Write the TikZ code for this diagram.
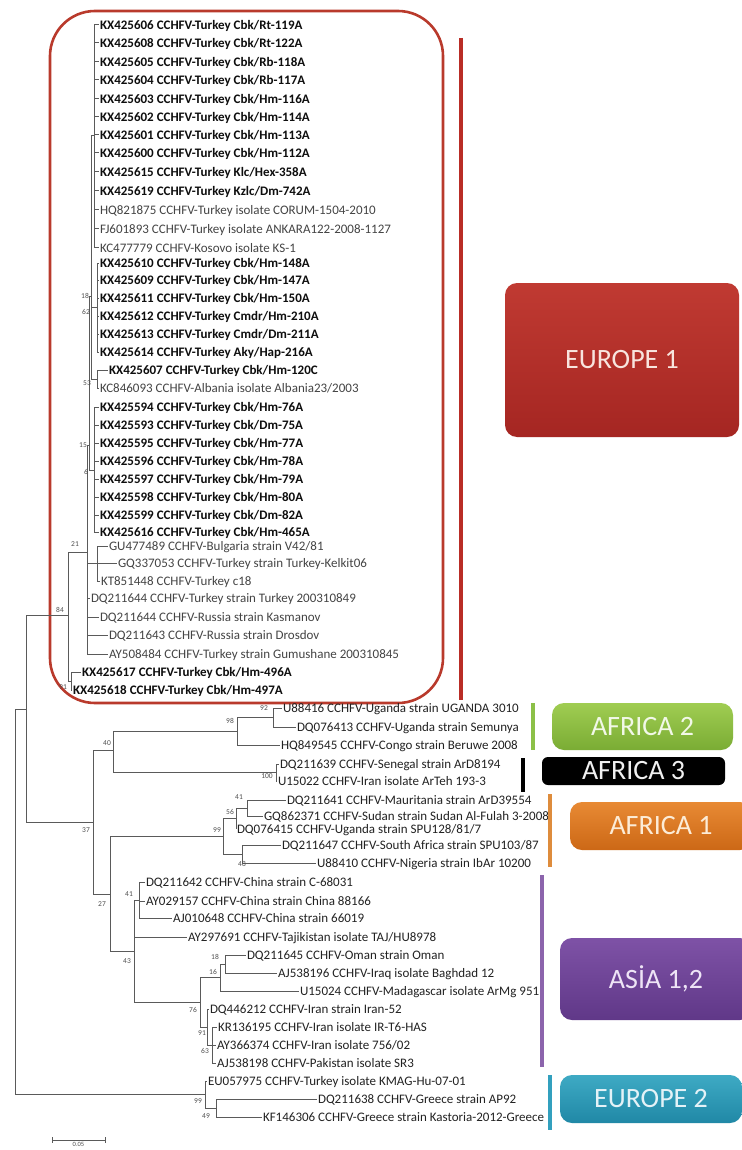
\documentclass[tikz,border=0pt]{standalone}
\usepackage{fontspec}
\setmainfont{Carlito}
\definecolor{txtb}{HTML}{0E0E0E}
\definecolor{txtg}{HTML}{444444}
\definecolor{txtd}{HTML}{222222}
\definecolor{brc}{HTML}{5A5A5A}
\definecolor{bsc}{HTML}{505050}
\definecolor{cladered}{RGB}{185,58,44}
\definecolor{barred}{RGB}{185,45,38}
\definecolor{bargreen}{RGB}{140,192,72}
\definecolor{barorange}{RGB}{222,140,60}
\definecolor{barpurple}{RGB}{140,100,172}
\definecolor{barteal}{RGB}{50,160,190}
\begin{document}
\begin{tikzpicture}[x=1pt,y=-1pt,
  leaf/.style={anchor=west,inner xsep=0.8pt,inner ysep=0pt,font=\fontsize{13}{13}\selectfont,text height=8.4pt,text depth=0pt,text=txtg},
  leafb/.style={leaf,font=\fontsize{13}{13}\selectfont\bfseries,text=txtb},
  leafd/.style={leaf,text=txtd},
  br/.style={draw=brc,line width=1pt},
  bs/.style={font=\fontsize{7.5}{7.5}\selectfont,text=bsc,inner sep=0pt},
  regbox/.style={rounded corners=12pt,inner sep=0pt,font=\fontsize{28}{28}\selectfont},
  bar/.style={line width=4pt}]
\useasboundingbox (0,0) rectangle (741,1150);
\fill[white] (0,0) rectangle (741,1150);

% ---------- clade frame ----------
\draw[cladered,line width=2.6pt,rounded corners=45pt] (50,11) rectangle (443,703);
\draw[bar,barred] (461,38) -- (461,700);

% ---------- Europe 1 leaves ----------
\node[leafb] (e1) at (99,25) {KX425606 CCHFV-Turkey Cbk/Rt-119A};
\node[leafb] (e2) at (99,43) {KX425608 CCHFV-Turkey Cbk/Rt-122A};
\node[leafb] (e3) at (99,62) {KX425605 CCHFV-Turkey Cbk/Rb-118A};
\node[leafb] (e4) at (99,80) {KX425604 CCHFV-Turkey Cbk/Rb-117A};
\node[leafb] (e5) at (99,99) {KX425603 CCHFV-Turkey Cbk/Hm-116A};
\node[leafb] (e6) at (99,117) {KX425602 CCHFV-Turkey Cbk/Hm-114A};
\node[leafb] (e7) at (99,135) {KX425601 CCHFV-Turkey Cbk/Hm-113A};
\node[leafb] (e8) at (99,153) {KX425600 CCHFV-Turkey Cbk/Hm-112A};
\node[leafb] (e9) at (99,172) {KX425615 CCHFV-Turkey Klc/Hex-358A};
\node[leafb] (e10) at (99,191) {KX425619 CCHFV-Turkey Kzlc/Dm-742A};
\node[leaf] (e11) at (99,210) {HQ821875 CCHFV-Turkey isolate CORUM-1504-2010};
\node[leaf] (e12) at (99,229) {FJ601893 CCHFV-Turkey isolate ANKARA122-2008-1127};
\node[leaf] (e13) at (99,248) {KC477779 CCHFV-Kosovo isolate KS-1};
\node[leafb] (e14) at (99,263) {KX425610 CCHFV-Turkey Cbk/Hm-148A};
\node[leafb] (e15) at (99,280) {KX425609 CCHFV-Turkey Cbk/Hm-147A};
\node[leafb] (e16) at (99,298) {KX425611 CCHFV-Turkey Cbk/Hm-150A};
\node[leafb] (e17) at (99,316) {KX425612 CCHFV-Turkey Cmdr/Hm-210A};
\node[leafb] (e18) at (99,334) {KX425613 CCHFV-Turkey Cmdr/Dm-211A};
\node[leafb] (e19) at (99,352) {KX425614 CCHFV-Turkey Aky/Hap-216A};
\node[leafb] (e20) at (108,370) {KX425607 CCHFV-Turkey Cbk/Hm-120C};
\node[leaf] (e21) at (99,388) {KC846093 CCHFV-Albania isolate Albania23/2003};
\node[leafb] (e22) at (99,407) {KX425594 CCHFV-Turkey Cbk/Hm-76A};
\node[leafb] (e23) at (99,425) {KX425593 CCHFV-Turkey Cbk/Dm-75A};
\node[leafb] (e24) at (99,443) {KX425595 CCHFV-Turkey Cbk/Hm-77A};
\node[leafb] (e25) at (99,461) {KX425596 CCHFV-Turkey Cbk/Hm-78A};
\node[leafb] (e26) at (99,479) {KX425597 CCHFV-Turkey Cbk/Hm-79A};
\node[leafb] (e27) at (99,497) {KX425598 CCHFV-Turkey Cbk/Hm-80A};
\node[leafb] (e28) at (99,515) {KX425599 CCHFV-Turkey Cbk/Dm-82A};
\node[leafb] (e29) at (99,532) {KX425616 CCHFV-Turkey Cbk/Hm-465A};
\node[leaf] (e30) at (108,546) {GU477489 CCHFV-Bulgaria strain V42/81};
\node[leaf] (e31) at (117,563) {GQ337053 CCHFV-Turkey strain Turkey-Kelkit06};
\node[leaf] (e32) at (100,581) {KT851448 CCHFV-Turkey c18};
\node[leaf] (e33) at (90,598) {DQ211644 CCHFV-Turkey strain Turkey 200310849};
\node[leaf] (e34) at (99,617) {DQ211644 CCHFV-Russia strain Kasmanov};
\node[leaf] (e35) at (108,635) {DQ211643 CCHFV-Russia strain Drosdov};
\node[leaf] (e36) at (108,654) {AY508484 CCHFV-Turkey strain Gumushane 200310845};
\node[leafb] (e37) at (81,672) {KX425617 CCHFV-Turkey Cbk/Hm-496A};
\node[leafb] (e38) at (72,690) {KX425618 CCHFV-Turkey Cbk/Hm-497A};

% ---------- lower leaves ----------
\node[leafd] (a1) at (282,708) {U88416 CCHFV-Uganda strain UGANDA 3010};
\node[leafd] (a2) at (296,727) {DQ076413 CCHFV-Uganda strain Semunya};
\node[leafd] (a3) at (280,745) {HQ849545 CCHFV-Congo strain Beruwe 2008};
\node[leafd] (a4) at (279,764) {DQ211639 CCHFV-Senegal strain ArD8194};
\node[leafd] (a5) at (277,781) {U15022 CCHFV-Iran isolate ArTeh 193-3};
\node[leafd] (a6) at (286,800) {DQ211641 CCHFV-Mauritania strain ArD39554};
\node[leafd] (a7) at (263,816) {GQ862371 CCHFV-Sudan strain Sudan Al-Fulah 3-2008};
\node[leafd] (a8) at (236,829) {DQ076415 CCHFV-Uganda strain SPU128/81/7};
\node[leafd] (a9) at (281,845) {DQ211647 CCHFV-South Africa strain SPU103/87};
\node[leafd] (a10) at (316,863) {U88410 CCHFV-Nigeria strain IbAr 10200};
\node[leafd] (a11) at (145,882) {DQ211642 CCHFV-China strain C-68031};
\node[leafd] (a12) at (145,901) {AY029157 CCHFV-China strain China 88166};
\node[leafd] (a13) at (172,918) {AJ010648 CCHFV-China strain 66019};
\node[leafd] (a14) at (187,937) {AY297691 CCHFV-Tajikistan isolate TAJ/HU8978};
\node[leafd] (a15) at (246,955) {DQ211645 CCHFV-Oman strain Oman};
\node[leafd] (a16) at (277,973) {AJ538196 CCHFV-Iraq isolate Baghdad 12};
\node[leafd] (a17) at (299,991) {U15024 CCHFV-Madagascar isolate ArMg 951};
\node[leafd] (a18) at (209,1009) {DQ446212 CCHFV-Iran strain Iran-52};
\node[leafd] (a19) at (217,1027) {KR136195 CCHFV-Iran isolate IR-T6-HAS};
\node[leafd] (a20) at (216,1045) {AY366374 CCHFV-Iran isolate 756/02};
\node[leafd] (a21) at (216,1063) {AJ538198 CCHFV-Pakistan isolate SR3};
\node[leafd] (a22) at (207,1081) {EU057975 CCHFV-Turkey isolate KMAG-Hu-07-01};
\node[leafd] (a23) at (317,1099) {DQ211638 CCHFV-Greece strain AP92};
\node[leafd] (a24) at (262,1117) {KF146306 CCHFV-Greece strain Kastoria-2012-Greece};

% ---------- internal nodes ----------
\coordinate (nTop) at (94,136);
\coordinate (n62) at (97,307);
\coordinate (n53) at (97,379);
\coordinate (n18) at (91,296);
\coordinate (n6) at (94,470);
\coordinate (n15) at (89,445);
\coordinate (nG) at (97,563);
\coordinate (n21) at (87,552);
\coordinate (n91) at (71,681);
\coordinate (n84) at (68,615);
\coordinate (nA) at (26,709);
\coordinate (root) at (15,900);
\coordinate (n92) at (273,717);
\coordinate (n98) at (237,731);
\coordinate (n100) at (276,772);
\coordinate (n40) at (113,750);
\coordinate (n41a) at (247,808);
\coordinate (n56) at (236,818);
\coordinate (n48) at (242,854);
\coordinate (n99a) at (223,836);
\coordinate (n41b) at (139,900);
\coordinate (n18b) at (225,964);
\coordinate (n16) at (220,977);
\coordinate (n63) at (212,1045);
\coordinate (n91b) at (207,1027);
\coordinate (n76) at (200,1002);
\coordinate (n43) at (134,951);
\coordinate (n27) at (110,894);
\coordinate (n37) at (93,822);
\coordinate (n49) at (216,1108);
\coordinate (n99e) at (205,1094);

% ---------- branches ----------
\foreach \l in {e1,e2,e3,e4,e5,e6,e7,e8,e9,e10,e11,e12,e13} \draw[br] (nTop) |- (\l.west);
\foreach \l in {e14,e15,e16,e17,e18,e19} \draw[br] (n62) |- (\l.west);
\foreach \l in {e20,e21} \draw[br] (n53) |- (\l.west);
\foreach \l in {nTop,n62,n53} \draw[br] (n18) |- (\l);
\foreach \l in {e22,e23,e24,e25,e26,e27,e28,e29} \draw[br] (n6) |- (\l.west);
\foreach \l in {n18,n6} \draw[br] (n15) |- (\l);
\foreach \l in {e30,e31,e32} \draw[br] (nG) |- (\l.west);
\foreach \l in {e33,e34,e35,e36} \draw[br] (n21) |- (\l.west);
\foreach \l in {n15,nG} \draw[br] (n21) |- (\l);
\foreach \l in {e37,e38} \draw[br] (n91) |- (\l.west);
\foreach \l in {n21,n91} \draw[br] (n84) |- (\l);
\foreach \l in {n84,n37} \draw[br] (nA) |- (\l);
\foreach \l in {nA,n99e} \draw[br] (root) |- (\l);

\foreach \l in {a1,a2} \draw[br] (n92) |- (\l.west);
\draw[br] (n98) |- (n92);
\draw[br] (n98) |- (a3.west);
\foreach \l in {a4,a5} \draw[br] (n100) |- (\l.west);
\foreach \l in {n98,n100} \draw[br] (n40) |- (\l);
\foreach \l in {a6,a7} \draw[br] (n41a) |- (\l.west);
\draw[br] (n56) |- (n41a);
\draw[br] (n56) |- (a8.west);
\foreach \l in {a9,a10} \draw[br] (n48) |- (\l.west);
\foreach \l in {n56,n48} \draw[br] (n99a) |- (\l);
\foreach \l in {a11,a12,a13} \draw[br] (n41b) |- (\l.west);
\foreach \l in {a15,a16} \draw[br] (n18b) |- (\l.west);
\draw[br] (n16) |- (n18b);
\draw[br] (n16) |- (a17.west);
\foreach \l in {a19,a20,a21} \draw[br] (n63) |- (\l.west);
\draw[br] (n91b) |- (a18.west);
\draw[br] (n91b) |- (n63);
\foreach \l in {n16,n91b} \draw[br] (n76) |- (\l);
\foreach \l in {n41b,n76} \draw[br] (n43) |- (\l);
\draw[br] (n43) |- (a14.west);
\foreach \l in {n99a,n43} \draw[br] (n27) |- (\l);
\foreach \l in {n40,n27} \draw[br] (n37) |- (\l);
\foreach \l in {a23,a24} \draw[br] (n49) |- (\l.west);
\draw[br] (n99e) |- (a22.west);
\draw[br] (n99e) |- (n49);

% ---------- bootstrap values ----------
\node[bs] (b1) at (85,296) {18};
\node[bs] (b2) at (86,312) {62};
\node[bs] (b3) at (87,383) {53};
\node[bs] (b4) at (83,445) {15};
\node[bs] (b5) at (86,472) {6};
\node[bs] (b6) at (75,544) {21};
\node[bs] (b7) at (60,610) {84};
\node[bs] (b8) at (63,687) {91};
\node[bs] (b9) at (264,708) {92};
\node[bs] (b10) at (230,721) {98};
\node[bs] (b11) at (107,743) {40};
\node[bs] (b12) at (267,776) {100};
\node[bs] (b13) at (239,797) {41};
\node[bs] (b14) at (230,812) {56};
\node[bs] (b15) at (217,830) {99};
\node[bs] (b16) at (86,830) {37};
\node[bs] (b17) at (242,864) {48};
\node[bs] (b18) at (129,894) {41};
\node[bs] (b19) at (102,904) {27};
\node[bs] (b20) at (127,961) {43};
\node[bs] (b21) at (215,957) {18};
\node[bs] (b22) at (213,972) {16};
\node[bs] (b23) at (193,1010) {76};
\node[bs] (b24) at (202,1033) {91};
\node[bs] (b25) at (205,1051) {63};
\node[bs] (b26) at (198,1101) {99};
\node[bs] (b27) at (206,1116) {49};

% ---------- scale bar ----------
\coordinate (sb1) at (52,1140);
\coordinate (sb2) at (105,1140);
\draw[br] (sb1) -- (sb2);
\draw[br] ([yshift=3pt]sb1) -- ([yshift=-3pt]sb1);
\draw[br] ([yshift=3pt]sb2) -- ([yshift=-3pt]sb2);
\node[bs,anchor=north,font=\fontsize{6.5}{6.5}\selectfont] (sbl) at (78.5,1142.5) {0.05};

% ---------- group bars ----------
\draw[bar,bargreen] (533,703) -- (533,750);
\draw[bar,black] (523,758) -- (523,792);
\draw[bar,barorange] (550,794) -- (550,867);
\draw[bar,barpurple] (542,875) -- (542,1067);
\draw[bar,barteal] (550,1075) -- (550,1130);

% ---------- group boxes ----------
\node[regbox,top color={rgb,255:red,192;green,58;blue,50},bottom color={rgb,255:red,165;green,38;blue,34},
  minimum width=234pt,minimum height=154pt,text={rgb,255:red,248;green,228;blue,222}] (eu1) at (622,360) {EUROPE 1};
\node[regbox,top color={rgb,255:red,160;green,205;blue,82},bottom color={rgb,255:red,122;green,172;blue,52},
  minimum width=181pt,minimum height=47pt,text={rgb,255:red,242;green,248;blue,232}] (af2) at (642.5,726.5) {AFRICA 2};
\node[regbox,rounded corners=6pt,fill=black,
  minimum width=183pt,minimum height=28pt,text={rgb,255:red,240;green,240;blue,240}] (af3) at (633.5,771) {AFRICA 3};
\node[regbox,top color={rgb,255:red,232;green,138;blue,52},bottom color={rgb,255:red,204;green,104;blue,22},
  minimum width=182pt,minimum height=48pt,text={rgb,255:red,252;green,236;blue,215}] (af1) at (661,826) {AFRICA 1};
\node[regbox,top color={rgb,255:red,126;green,82;blue,166},bottom color={rgb,255:red,96;green,56;blue,136},
  minimum width=192pt,minimum height=82pt,text={rgb,255:red,238;green,228;blue,246}] (as) at (656,979) {ASİA 1,2};
\node[regbox,top color={rgb,255:red,62;green,170;blue,196},bottom color={rgb,255:red,32;green,136;blue,166},
  minimum width=182pt,minimum height=48pt,text={rgb,255:red,228;green,242;blue,247}] (eu2) at (651,1099) {EUROPE 2};
\end{tikzpicture}
\end{document}
